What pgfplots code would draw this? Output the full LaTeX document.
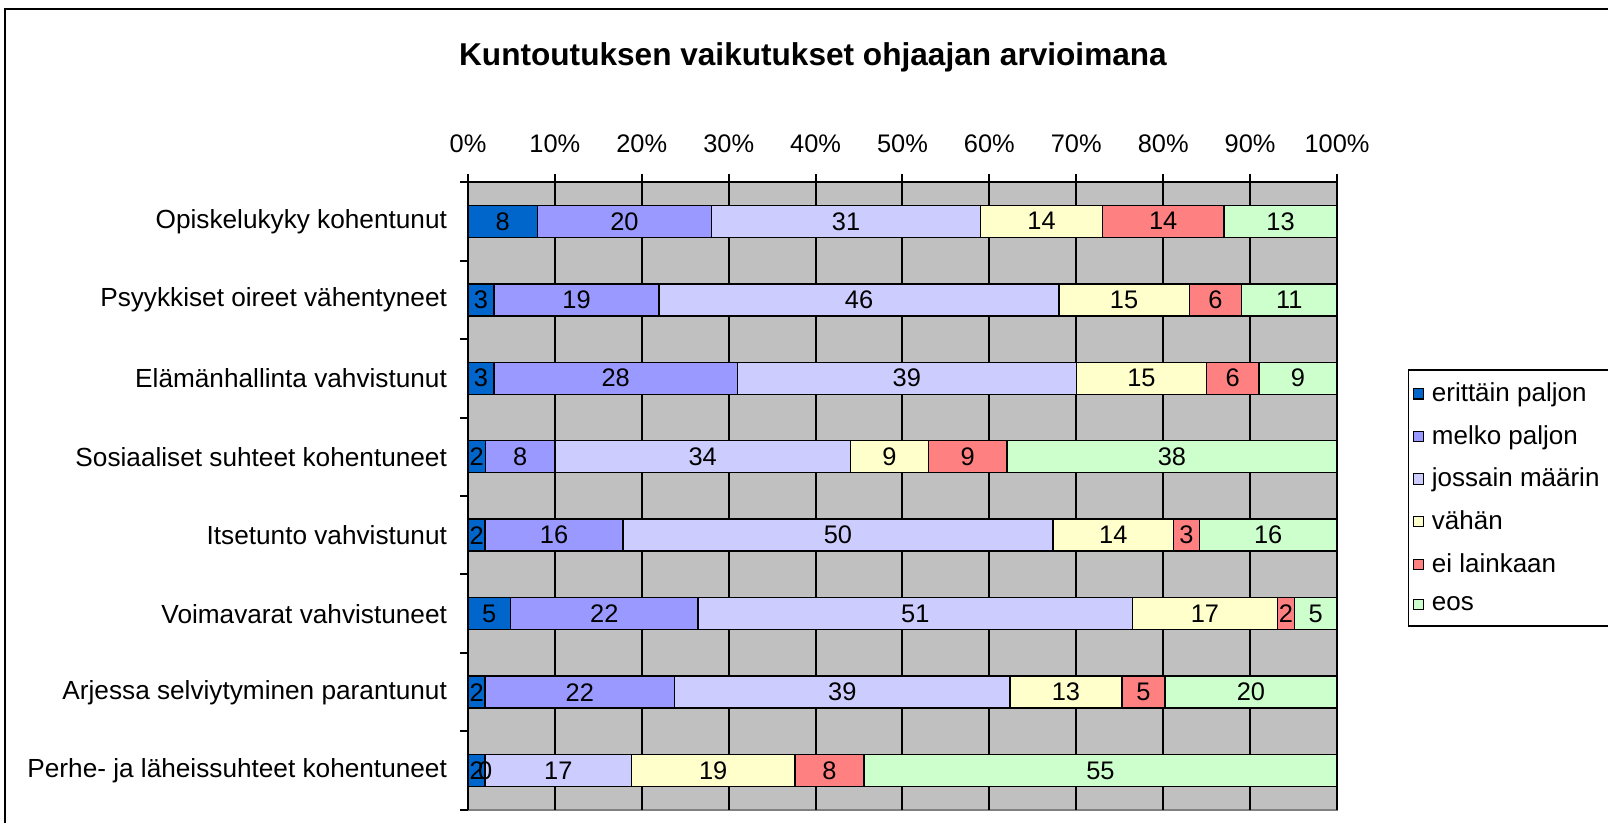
\documentclass[border=0pt]{standalone}
\usepackage{fontspec}
\setmainfont{Liberation Sans}
\usepackage{pgfplots}
\usepackage{pgfplotstable}
\pgfplotsset{compat=1.18}
\definecolor{c1}{HTML}{0066CC}
\definecolor{c2}{HTML}{9999FF}
\definecolor{c3}{HTML}{CCCCFF}
\definecolor{c4}{HTML}{FFFFCC}
\definecolor{c5}{HTML}{FF8080}
\definecolor{c6}{HTML}{CCFFCC}
\definecolor{bg}{HTML}{C0C0C0}
\definecolor{edge}{HTML}{808080}
% counts per category; tot = number of answers (row sum)
\pgfplotstableread{
y a b c d e f tot
7 8 20 31 14 14 13 100
6 3 19 46 15 6 11 100
5 3 28 39 15 6 9 100
4 2 8 34 9 9 38 100
3 2 16 50 14 3 16 101
2 5 22 51 17 2 5 102
1 2 22 39 13 5 20 101
0 2 0 17 19 8 55 101
}\data
\pgfplotsset{
  common/.style={
    at={(0,0)}, anchor=south west,
    scale only axis, width=434.5pt, height=314pt,
    xmin=0, xmax=100, ymin=-0.5, ymax=7.5,
    enlargelimits=false,
  },
  lab/.style={only marks, mark=none,
    point meta=explicit, nodes near coords,
    every node near coord/.style={anchor=center, font=\fontsize{12.7}{15}\selectfont, text=black, inner sep=0pt}},
}
\begin{document}
\begin{tikzpicture}[x=1pt,y=1pt]
\path[use as bounding box] (-234,-6.5) rectangle (570,405);
\draw[line width=1pt] (-231.5,400.5) rectangle (640,-40);
\node[font=\bfseries\fontsize{15.8}{19}\selectfont] at (172.5,376.5) {Kuntoutuksen vaikutukset ohjaajan arvioimana};
\begin{axis}[
  common,
  xbar stacked, bar width=16pt,
  axis background/.style={fill=bg, draw=edge, line width=1pt},
  axis line style={draw=none},
  xtick={0,10,...,100},
  xtick pos=upper, xticklabel pos=upper,
  xticklabel={\pgfmathprintnumber{\tick}\%},
  xticklabel style={yshift=7pt, font=\fontsize{12.7}{15}\selectfont},
  ytick={-0.5,0.5,1.5,2.5,3.5,4.5,5.5,6.5,7.5},
  yticklabels={Perhe- ja läheissuhteet kohentuneet,Arjessa selviytyminen parantunut,Voimavarat vahvistuneet,Itsetunto vahvistunut,Sosiaaliset suhteet kohentuneet,Elämänhallinta vahvistunut,Psyykkiset oireet vähentyneet,Opiskelukyky kohentunut,{}},
  yticklabel style={yshift=19.625pt, xshift=-3pt, font=\fontsize{13.1}{15}\selectfont},
  ytick pos=left,
  tick align=outside, major tick length=4pt,
  tick style={black, line width=1pt},
  xmajorgrids, grid style={black, line width=1pt},
  ymajorgrids=false,
  /pgf/number format/assume math mode=true,
  legend image code/.code={\draw[#1, line width=0.6pt] (0pt,-2.6pt) rectangle (5.2pt,2.6pt);},
  legend style={at={(1.0817,0.702)}, anchor=north west, draw=black, line width=0.7pt, fill=white,
    font=\fontsize{13}{15}\selectfont, row sep=8.4pt, inner xsep=2pt, inner ysep=5.5pt,
    nodes={inner xsep=3.8pt, inner ysep=1pt}},
  legend cell align=left,
]
\addplot[fill=c1, draw=black, line width=0.75pt] table[y=y, x expr=\thisrow{a}/\thisrow{tot}*100] \data;
\addplot[fill=c2, draw=black, line width=0.75pt] table[y=y, x expr=\thisrow{b}/\thisrow{tot}*100] \data;
\addplot[fill=c3, draw=black, line width=0.75pt] table[y=y, x expr=\thisrow{c}/\thisrow{tot}*100] \data;
\addplot[fill=c4, draw=black, line width=0.75pt] table[y=y, x expr=\thisrow{d}/\thisrow{tot}*100] \data;
\addplot[fill=c5, draw=black, line width=0.75pt] table[y=y, x expr=\thisrow{e}/\thisrow{tot}*100] \data;
\addplot[fill=c6, draw=black, line width=0.75pt] table[y=y, x expr=\thisrow{f}/\thisrow{tot}*100] \data;
\legend{erittäin paljon, melko paljon, jossain määrin, vähän, ei lainkaan, eos}
\end{axis}
\draw[black, line width=1pt] (0,0) -- (0,314) -- (434.5,314);
% value labels centred in each segment
\begin{axis}[common, hide axis, /pgf/number format/assume math mode=true]
\addplot[lab] table[y=y, x expr=(\thisrow{a}/2)/\thisrow{tot}*100, meta=a] \data;
\addplot[lab] table[y=y, x expr=(\thisrow{a}+\thisrow{b}/2)/\thisrow{tot}*100, meta=b] \data;
\addplot[lab] table[y=y, x expr=(\thisrow{a}+\thisrow{b}+\thisrow{c}/2)/\thisrow{tot}*100, meta=c] \data;
\addplot[lab] table[y=y, x expr=(\thisrow{a}+\thisrow{b}+\thisrow{c}+\thisrow{d}/2)/\thisrow{tot}*100, meta=d] \data;
\addplot[lab] table[y=y, x expr=(\thisrow{a}+\thisrow{b}+\thisrow{c}+\thisrow{d}+\thisrow{e}/2)/\thisrow{tot}*100, meta=e] \data;
\addplot[lab] table[y=y, x expr=(\thisrow{a}+\thisrow{b}+\thisrow{c}+\thisrow{d}+\thisrow{e}+\thisrow{f}/2)/\thisrow{tot}*100, meta=f] \data;
\end{axis}
\end{tikzpicture}
\end{document}
